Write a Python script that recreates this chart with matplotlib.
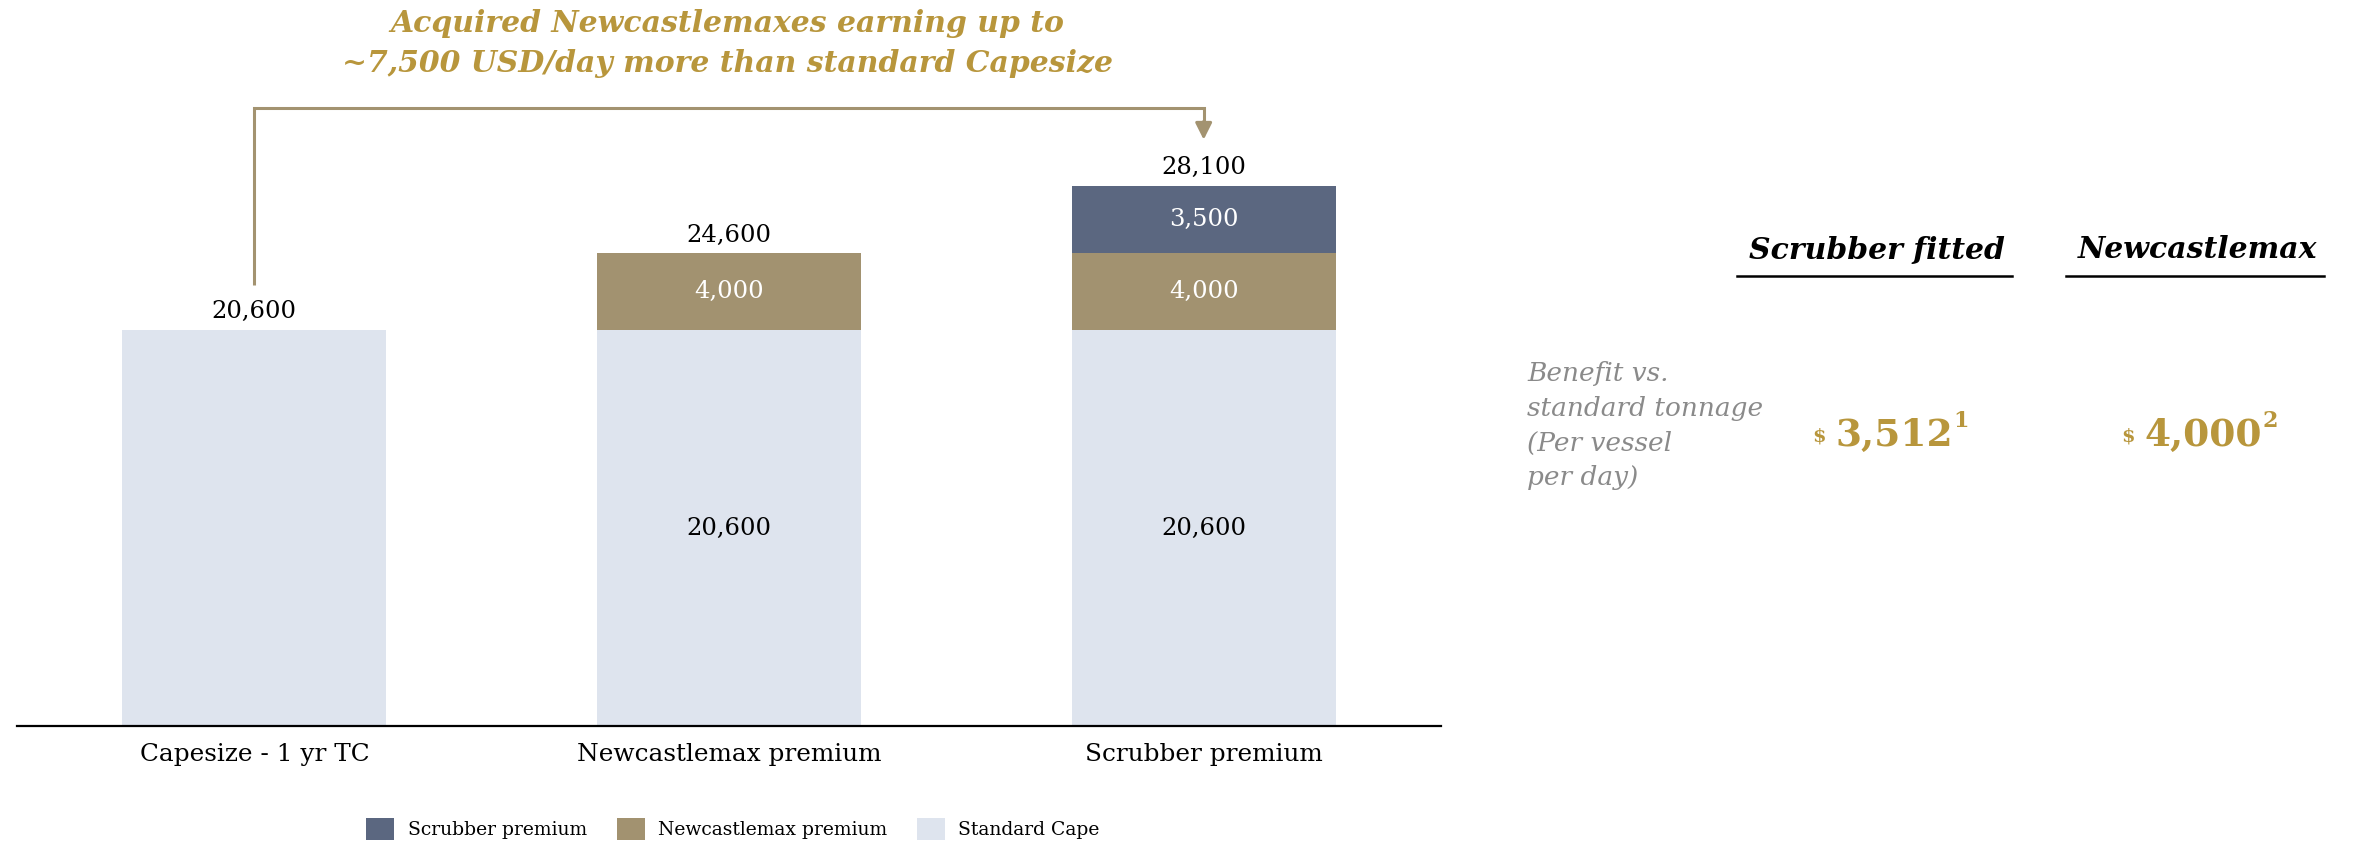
import matplotlib
matplotlib.use("Agg")
import matplotlib.pyplot as plt
from matplotlib.patches import Patch

plt.rcParams["font.family"] = ["DejaVu Serif"]

# ---- data -------------------------------------------------------------
categories = ["Capesize - 1 yr TC", "Newcastlemax premium", "Scrubber premium"]
standard_cape = [20600, 20600, 20600]
newcastlemax_premium = [0, 4000, 4000]
scrubber_premium = [0, 0, 3500]
series_names = ["Scrubber premium", "Newcastlemax premium", "Standard Cape"]

benefit_headers = ["Scrubber fitted", "Newcastlemax"]
benefit_values = ["3,512", "4,000"]
benefit_notes = ["1", "2"]

# ---- styling ----------------------------------------------------------
C_STD = "#DEE4EE"
C_NCM = "#A29270"
C_SCR = "#5B6780"
C_GOLD = "#B8963C"
C_ARROW = "#A39370"
C_GREY = "#8A8A8A"

W, H = 2354, 843
fig = plt.figure(figsize=(W / 100, H / 100), dpi=100)


def fx(px):
    return px / W


def fy(py):
    return 1 - py / H


# axes: baseline at y=726px, spanning x 17..1441 px
ymax = 36000
px_per_unit = 396 / 20600
ax_h = ymax * px_per_unit
ax = fig.add_axes([fx(17), fy(726), (1441 - 17) / W, ax_h / H])
ax.set_xlim(-0.5, 2.5)
ax.set_ylim(0, ymax)

x = list(range(len(categories)))
bw = 0.556
ax.bar(x, standard_cape, width=bw, color=C_STD)
ax.bar(x, newcastlemax_premium, width=bw, bottom=standard_cape, color=C_NCM)
mid = [a + b for a, b in zip(standard_cape, newcastlemax_premium)]
ax.bar(x, scrubber_premium, width=bw, bottom=mid, color=C_SCR)
totals = [a + b for a, b in zip(mid, scrubber_premium)]

fs_num = 17.5
for i in x:
    # segment labels (stacked bars only)
    if newcastlemax_premium[i] or scrubber_premium[i]:
        ax.text(i, standard_cape[i] / 2, f"{standard_cape[i]:,}",
                ha="center", va="center", fontsize=fs_num, color="black")
    if newcastlemax_premium[i]:
        ax.text(i, standard_cape[i] + newcastlemax_premium[i] / 2,
                f"{newcastlemax_premium[i]:,}", ha="center", va="center",
                fontsize=fs_num, color="white")
    if scrubber_premium[i]:
        ax.text(i, mid[i] + scrubber_premium[i] / 2, f"{scrubber_premium[i]:,}",
                ha="center", va="center", fontsize=fs_num, color="white")
    # totals above the bars
    ax.annotate(f"{totals[i]:,}", (i, totals[i]), xytext=(0, 13),
                textcoords="offset points", ha="center", va="center",
                fontsize=fs_num, color="black")

for s in ["top", "right", "left"]:
    ax.spines[s].set_visible(False)
ax.spines["bottom"].set_linewidth(1.6)
ax.spines["bottom"].set_color("black")
ax.set_yticks([])
ax.set_xticks(x)
ax.set_xticklabels(categories, fontsize=17.8)
ax.tick_params(axis="x", length=0, pad=12)

# connector from first to last bar
y_start = totals[0] + 2350
y_top = 32150
y_tip = totals[2] + 2400
ax.plot([0, 0, 2, 2], [y_start, y_top, y_top, y_tip + 500], color=C_ARROW,
        lw=2.2, solid_joinstyle="miter", solid_capstyle="butt", clip_on=False)
ax.annotate("", xy=(2, y_tip), xytext=(2, y_tip + 950),
            arrowprops=dict(arrowstyle="-|>,head_length=1.0,head_width=0.5",
                            color=C_ARROW, lw=2.2, shrinkA=0, shrinkB=0),
            annotation_clip=False)

# headline
fig.text(fx(727), fy(23), "Acquired Newcastlemaxes earning up to",
         ha="center", va="center", fontsize=21.5, fontweight="bold",
         fontstyle="italic", color=C_GOLD)
fig.text(fx(727), fy(63), "~7,500 USD/day more than standard Capesize",
         ha="center", va="center", fontsize=21.5, fontweight="bold",
         fontstyle="italic", color=C_GOLD)

# legend
handles = [Patch(facecolor=c, edgecolor="none") for c in (C_SCR, C_NCM, C_STD)]
fig.legend(handles, series_names, loc="center", bbox_to_anchor=(fx(733), fy(829)),
           ncol=3, frameon=False, fontsize=13.5, handlelength=1.5, handleheight=1.5,
           handletextpad=0.7, columnspacing=1.6, borderaxespad=0)

# right-hand comparison panel
head_centres = [1877, 2197]
under_spans = [(1737, 2012), (2066, 2324)]
for hdr, cx, (u0, u1) in zip(benefit_headers, head_centres, under_spans):
    fig.text(fx(cx), fy(250), hdr, ha="center", va="center", fontsize=21.5,
             fontweight="bold", fontstyle="italic", color="black")
    fig.add_artist(plt.Line2D([fx(u0), fx(u1)], [fy(276), fy(276)],
                              color="black", lw=1.8))

desc_lines = ["Benefit vs.", "standard tonnage", "(Per vessel", "per day)"]
for k, line in enumerate(desc_lines):
    fig.text(fx(1527), fy(374 + 34.5 * k), line, ha="left", va="center",
             fontsize=19, fontstyle="italic", color=C_GREY)

dollar_x = [1812, 2121]
for val, note, dx in zip(benefit_values, benefit_notes, dollar_x):
    fig.text(fx(dx), fy(437), "$", ha="left", va="center", fontsize=14,
             fontweight="bold", color=C_GOLD)
    t2 = fig.text(fx(dx + 23), fy(435), val, ha="left", va="center",
                  fontsize=27, fontweight="bold", color=C_GOLD)
    fig.canvas.draw()
    bb = t2.get_window_extent()
    fig.text(bb.x1 / W + 0.0005, fy(421), note, ha="left", va="center",
             fontsize=16, fontweight="bold", color=C_GOLD)

fig.savefig("out.png", dpi=100, facecolor="white")
